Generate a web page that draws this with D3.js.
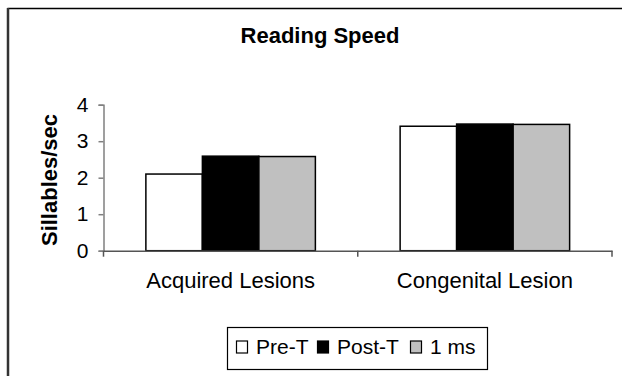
<!DOCTYPE html>
<html>
<head>
<meta charset="utf-8">
<script src="https://cdn.jsdelivr.net/npm/d3@7"></script>
<style>
html,body{margin:0;padding:0;background:#fff;}
svg{display:block;font-family:"Liberation Sans",Arial,Helvetica,sans-serif;}
</style>
</head>
<body>
<svg id="chart" width="622" height="376"></svg>
<script>
const categories = ["Acquired Lesions", "Congenital Lesion"];
const seriesNames = ["Pre-T", "Post-T", "1 ms"];
const preT = [2.1, 3.41];
const postT = [2.59, 3.47];
const oneMs = [2.58, 3.46];
const seriesColors = ["#ffffff", "#000000", "#c0c0c0"];
const yTicks = [0, 1, 2, 3, 4];
const titleText = "Reading Speed";
const yLabel = "Sillables/sec";

const seriesValues = [preT, postT, oneMs];
const svg = d3.select("#chart");

// outer frame
svg.append("line").attr("x1", 7.5).attr("x2", 622).attr("y1", 8.5).attr("y2", 8.5)
  .attr("stroke", "#000").attr("stroke-width", 1.5);
svg.append("line").attr("x1", 8).attr("x2", 8).attr("y1", 8).attr("y2", 376)
  .attr("stroke", "#333").attr("stroke-width", 2.5);

const plotLeft = 103.5, plotRight = 612, plotTop = 104.7, plotBottom = 250.7;

const x = d3.scaleBand().domain(categories).range([plotLeft, plotRight]).paddingInner(0).paddingOuter(0);
const xs = d3.scaleBand().domain(seriesNames).range([0, x.bandwidth()]).paddingInner(0).paddingOuter(0.75);
const y = d3.scaleLinear().domain([0, 4]).range([plotBottom, plotTop]);

// title
svg.append("text").attr("x", 320).attr("y", 43).attr("text-anchor", "middle")
  .attr("font-size", 22).attr("font-weight", "bold").text(titleText);

// y label
svg.append("text").attr("transform", "translate(57,180) rotate(-90)")
  .attr("text-anchor", "middle").attr("font-size", 22).attr("font-weight", "bold").text(yLabel);

// bars
const groups = svg.append("g").selectAll("g").data(categories).join("g")
  .attr("transform", d => `translate(${x(d)},0)`);
groups.selectAll("rect")
  .data((c, ci) => seriesNames.map((s, si) => ({s, si, v: seriesValues[si][ci]})))
  .join("rect")
  .attr("x", d => xs(d.s))
  .attr("width", xs.bandwidth())
  .attr("y", d => y(d.v))
  .attr("height", d => y(0) - y(d.v))
  .attr("fill", d => seriesColors[d.si])
  .attr("stroke", "#000").attr("stroke-width", 1.5);

// y axis
const yAxis = svg.append("g").attr("transform", `translate(${plotLeft},0)`)
  .call(d3.axisLeft(y).tickValues(yTicks).tickFormat(d3.format("d")).tickSize(5).tickPadding(10));
yAxis.select(".domain").attr("stroke", "#808080").attr("stroke-width", 1.5);
yAxis.selectAll(".tick line").attr("stroke", "#808080").attr("stroke-width", 1.5);
yAxis.selectAll(".tick text").attr("font-size", 21).attr("fill", "#000")
  .attr("font-family", "Liberation Sans, Arial, sans-serif");

// x axis
const xAxis = svg.append("g").attr("transform", `translate(0,${plotBottom})`)
  .call(d3.axisBottom(x).tickSize(0).tickPadding(0));
xAxis.select(".domain").attr("stroke", "#555").attr("stroke-width", 1.5);
xAxis.selectAll(".tick text").attr("font-size", 22).attr("fill", "#000")
  .attr("font-family", "Liberation Sans, Arial, sans-serif").attr("dy", 0).attr("y", 37);
// category boundary ticks
const bounds = [plotLeft, plotLeft + x.step(), plotRight];
xAxis.selectAll(".bound").data(bounds).join("line").attr("class", "bound")
  .attr("x1", d => d).attr("x2", d => d).attr("y1", 0).attr("y2", 6)
  .attr("stroke", "#555").attr("stroke-width", 1.5);

// legend
const lg = svg.append("g");
lg.append("rect").attr("x", 227.5).attr("y", 327.5).attr("width", 260).attr("height", 42)
  .attr("fill", "#fff").attr("stroke", "#000").attr("stroke-width", 1.2);
const legX = [236, 317, 410];
const items = lg.selectAll("g.item").data(seriesNames).join("g").attr("class", "item")
  .attr("transform", (d, i) => `translate(${legX[i]},0)`);
items.append("rect").attr("x", 0.5).attr("y", 341).attr("width", 11).attr("height", 12)
  .attr("fill", (d, i) => seriesColors[i]).attr("stroke", "#000").attr("stroke-width", 1.2);
items.append("text").attr("x", 20).attr("y", 354).attr("font-size", 21).text(d => d);
</script>
</body>
</html>
